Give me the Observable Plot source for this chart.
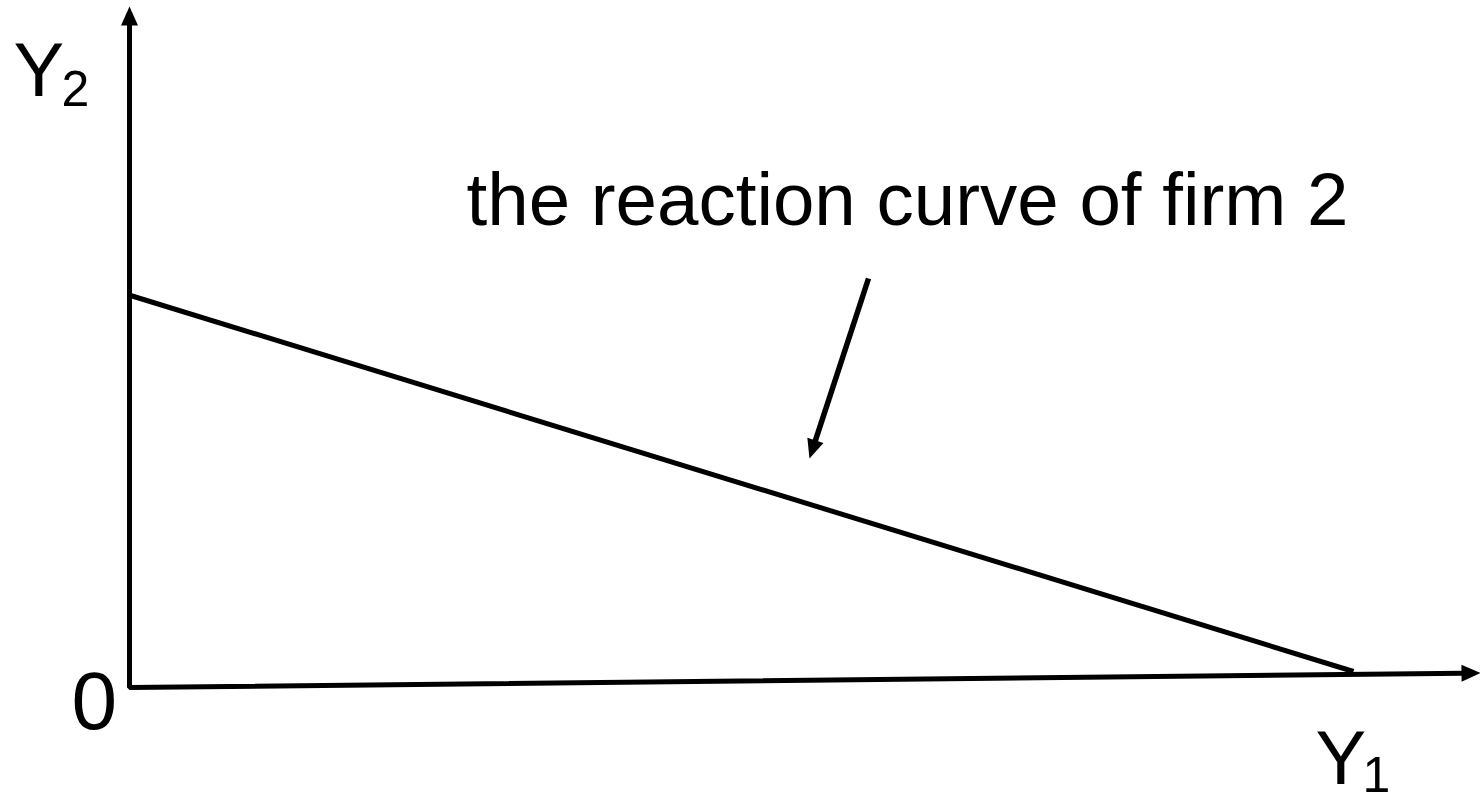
<!DOCTYPE html>
<html>
<head>
<meta charset="utf-8">
<script src="https://cdn.jsdelivr.net/npm/d3@7"></script>
<script src="https://cdn.jsdelivr.net/npm/@observablehq/plot@0.6"></script>
<style>
  html, body { margin: 0; padding: 0; background: #fff; overflow: hidden; }
</style>
</head>
<body>
<div id="chart"></div>
<script>
// Diagram coordinates (origin at the corner of the axes, 1 unit ≈ 100px)
const yAxisTop = [0, 6.81];           // tip of the Y2 axis arrow
const origin = [0, 0];
const xAxisEnd = [13.51, 0.145];      // tip of the Y1 axis arrow
const reactionCurve = [[0.01, 3.92], [12.24, 0.16]];   // reaction curve of firm 2
const pointerStart = [7.39, 4.09];
const pointerTip = [6.80, 2.29];

const labelTexts = ["Y", "2", "0", "Y", "1", "the reaction curve of firm 2"];
const labelX = [-1.16, -0.68, -0.58, 11.86, 12.33, 3.37];
const labelY = [5.92, 5.82, -0.41, -0.96, -1.04, 4.63];
const labelSizes = [76, 50, 82, 76, 50, 74.5];

// ---- build tables ----
const headLen = 0.17; // head length in units (line stops inside the head)
function back(tip, from) {
  const dx = tip[0] - from[0], dy = tip[1] - from[1];
  const L = Math.hypot(dx, dy);
  return [tip[0] - dx / L * headLen, tip[1] - dy / L * headLen];
}
function angle(from, tip) {
  return Math.atan2(tip[0] - from[0], tip[1] - from[1]) * 180 / Math.PI;
}
const axesPath = [back(yAxisTop, origin), origin, back(xAxisEnd, origin)]
  .map(([x, y]) => ({x, y}));
const reaction = reactionCurve.map(([x, y]) => ({x, y}));
const pointer = [pointerStart, back(pointerTip, pointerStart)].map(([x, y]) => ({x, y}));
const heads = [
  {x: yAxisTop[0], y: yAxisTop[1], r: angle(origin, yAxisTop)},
  {x: xAxisEnd[0], y: xAxisEnd[1], r: angle(origin, xAxisEnd)},
  {x: pointerTip[0], y: pointerTip[1], r: angle(pointerStart, pointerTip)}
];
const labels = labelTexts.map((t, i) => ({text: t, x: labelX[i], y: labelY[i], size: labelSizes[i]}));

// arrowhead symbol with its tip at the origin, pointing up
const arrowHead = {
  draw(ctx) {
    ctx.moveTo(0, 0);
    ctx.lineTo(8.5, 19);
    ctx.lineTo(-8.5, 19);
    ctx.closePath();
  }
};

const W = 1480, H = 792;
const chart = Plot.plot({
  width: W,
  height: H,
  margin: 0,
  style: {fontFamily: "Arial, 'Liberation Sans', sans-serif", background: "#fff", color: "#000"},
  x: {axis: null, domain: [-1.29, 13.51], range: [0, W]},
  y: {axis: null, domain: [-1.05, 6.87], range: [H, 0]},
  marks: [
    Plot.line(axesPath, {x: "x", y: "y", stroke: "black", strokeWidth: 5, strokeLinejoin: "miter", strokeLinecap: "butt"}),
    Plot.line(reaction, {x: "x", y: "y", stroke: "black", strokeWidth: 5, strokeLinecap: "butt"}),
    Plot.line(pointer, {x: "x", y: "y", stroke: "black", strokeWidth: 5.5, strokeLinecap: "butt"}),
    Plot.dot(heads, {x: "x", y: "y", rotate: "r", symbol: arrowHead, fill: "black", stroke: "none"}),
    ...labels.map(l => Plot.text([l], {
      x: "x", y: "y", text: "text", fontSize: l.size,
      textAnchor: "start", lineAnchor: "bottom", fill: "black"
    }))
  ]
});
document.getElementById("chart").appendChild(chart);
</script>
</body>
</html>
